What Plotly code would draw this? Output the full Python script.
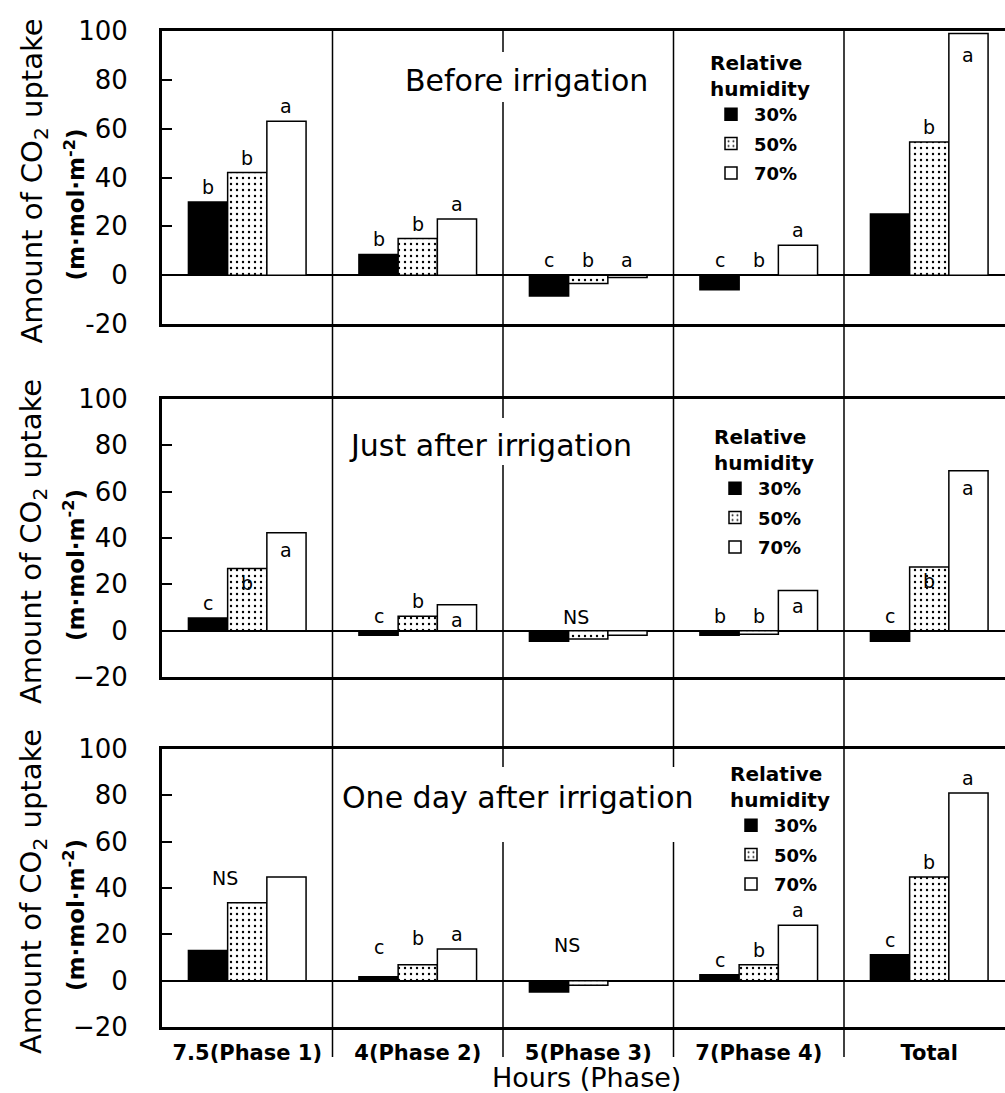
import plotly.graph_objects as go

# ---------------- data ----------------
phases = ["7.5(Phase 1)", "4(Phase 2)", "5(Phase 3)", "7(Phase 4)", "Total"]
humidity = ["30%", "50%", "70%"]
panel_titles = ["Before irrigation", "Just after irrigation", "One day after irrigation"]

before_30 = [30, 8.5, -8.5, -6, 25]
before_50 = [42, 15, -3.4, 0, 54.5]
before_70 = [63, 23, -1, 12.3, 99]

just_30 = [5.5, -2, -4.6, -2, -4.6]
just_50 = [26.8, 6.2, -3.6, -1.5, 27.5]
just_70 = [42.3, 11.2, -2, 17.3, 69]

oneday_30 = [13, 1.7, -4.9, 2.6, 11.2]
oneday_50 = [33.6, 6.9, -2, 6.9, 44.8]
oneday_70 = [44.8, 13.7, -0.3, 23.9, 81]

letters_before_30 = ["b", "b", "c", "c", ""]
letters_before_50 = ["b", "b", "b", "b", "b"]
letters_before_70 = ["a", "a", "a", "a", "a"]
letters_just_30 = ["c", "c", "", "b", "c"]
letters_just_50 = ["b", "b", "NS", "b", "b"]
letters_just_70 = ["a", "a", "", "a", "a"]
letters_oneday_30 = ["", "c", "", "c", "c"]
letters_oneday_50 = ["NS", "b", "NS", "b", "b"]
letters_oneday_70 = ["", "a", "", "a", "a"]

y_ticks = [-20, 0, 20, 40, 60, 80, 100]
y_ticktext_top = ["-20", "0", "20", "40", "60", "80", "100"]
y_ticktext_low = ["\u221220", "0", "20", "40", "60", "80", "100"]

panels = [
    [before_30, before_50, before_70],
    [just_30, just_50, just_70],
    [oneday_30, oneday_50, oneday_70],
]
panel_letters = [
    [letters_before_30, letters_before_50, letters_before_70],
    [letters_just_30, letters_just_50, letters_just_70],
    [letters_oneday_30, letters_oneday_50, letters_oneday_70],
]

# ---------------- layout geometry (pixels) ----------------
W, H, L = 1005, 1093, 162
FONT = "DejaVu Sans"


def py(px):
    return 1 - px / H


def pxx(px):
    return (px - L) / (W - L)


panel_px = [(31, 324), (399, 677), (749, 1027)]      # top, bottom of each box
title_pos = [(526, 80), (490, 445), (518, 797)]
white_patch = [(392, 52, 662, 102), (334, 418, 650, 465), (334, 767, 708, 842)]
legend_pos = [(708, 44), (712, 418), (728, 755)]

# label placement tweaks: (panel, series, category) -> (xshift, yshift, inside)
label_style = {
    (0, 2, 4): (0, -22, True),
    (1, 1, 0): (0, -14, True),
    (1, 2, 0): (0, -17, True),
    (1, 2, 1): (0, -15, True),
    (1, 2, 3): (0, -15, True),
    (1, 1, 4): (0, -14, True),
    (1, 2, 4): (0, -17, True),
    (1, 1, 2): (-12, 14, False),
    (2, 1, 0): (-22, 25, False),
    (2, 1, 2): (-21, 36, False),
    (2, 0, 1): (0, 30, False),
    (2, 1, 1): (0, 27, False),
}

BAR_W = 0.23

fig = go.Figure()

series_style = [
    dict(color="black", pattern=dict(shape="")),
    dict(color="white", pattern=dict(shape=".", fgcolor="black", bgcolor="white",
                                      size=6, solidity=0.12, fillmode="replace")),
    dict(color="white", pattern=dict(shape="")),
]

legend_names = ["legend", "legend2", "legend3"]
for p, vals in enumerate(panels):
    ax = "" if p == 0 else str(p + 1)
    for s, v in enumerate(vals):
        st = series_style[s]
        fig.add_trace(go.Bar(
            x=phases, y=v, name=humidity[s],
            xaxis="x" + ax, yaxis="y" + ax,
            legend=legend_names[p], legendgroup=f"p{p}s{s}",
            marker=dict(color=st["color"], pattern=st["pattern"],
                        line=dict(color="black", width=1.5)),
            showlegend=True, hoverinfo="skip",
        ))

layout = dict(
    width=W, height=H,
    margin=dict(l=L, r=0, t=0, b=0),
    paper_bgcolor="white", plot_bgcolor="rgba(0,0,0,0)",
    barmode="group", bargap=1 - 3 * BAR_W, bargroupgap=0,
    font=dict(family=FONT, color="black"),
)

for p in range(3):
    ax = "" if p == 0 else str(p + 1)
    top, bot = panel_px[p]
    layout["xaxis" + ax] = dict(
        domain=[0, 1], anchor="y" + ax, type="category",
        categoryorder="array", categoryarray=phases,
        range=[-0.5, -0.5 + (W - L) / 170.5],
        showline=True, linewidth=3, linecolor="black", mirror=True,
        ticks="", showgrid=False, zeroline=False,
        showticklabels=(p == 2),
        tickfont=dict(family=FONT, size=21, weight="bold"),
        ticklabelstandoff=5, automargin=False,
    )
    layout["yaxis" + ax] = dict(
        domain=[py(bot), py(top)], anchor="x" + ax, range=[-20, 100],
        tickvals=y_ticks, ticktext=y_ticktext_top if p == 0 else y_ticktext_low,
        ticks="inside", ticklen=10, tickwidth=1.5, tickcolor="black",
        showline=True, linewidth=3, linecolor="black",
        showgrid=False, zeroline=True, zerolinecolor="black", zerolinewidth=1.5,
        tickfont=dict(family=FONT, size=26), ticklabelstandoff=26,
        automargin=False,
    )
    lx, ly = legend_pos[p]
    layout[legend_names[p]] = dict(
        x=pxx(lx), y=py(ly), xanchor="left", yanchor="top",
        bgcolor="rgba(0,0,0,0)",
        title=dict(text="Relative<br>humidity", font=dict(family=FONT, size=20, weight="bold")),
        font=dict(family=FONT, size=18, weight="bold"),
        tracegroupgap=3, traceorder="grouped", itemwidth=36,
    )

fig.update_layout(**layout)

shapes = []
# vertical dividers between phases, running through all panels
for i in range(len(phases) - 1):
    shapes.append(dict(type="line", xref="x", yref="paper", x0=i + 0.5, x1=i + 0.5,
                       y0=py(1057), y1=py(31), line=dict(color="black", width=1.5),
                       layer="above"))
# white patches behind the panel titles
for (x0, y0, x1, y1) in white_patch:
    shapes.append(dict(type="rect", xref="paper", yref="paper", x0=pxx(x0), x1=pxx(x1),
                       y0=py(y1), y1=py(y0), fillcolor="white", line=dict(width=0),
                       layer="above"))
fig.update_layout(shapes=shapes)

ann = []
for p in range(3):
    ax = "" if p == 0 else str(p + 1)
    top, bot = panel_px[p]
    mid = (top + bot) / 2
    ann.append(dict(text="Amount of CO<sub>2</sub> uptake", xref="paper", yref="paper",
                    x=pxx(33), y=py(mid + 4), textangle=-90, showarrow=False,
                    xanchor="center", yanchor="middle",
                    font=dict(family=FONT, size=29)))
    ann.append(dict(text="(m\u00b7mol\u00b7m<sup>-2</sup>)", xref="paper", yref="paper",
                    x=pxx(74), y=py(mid + 27), textangle=-90, showarrow=False,
                    xanchor="center", yanchor="middle",
                    font=dict(family=FONT, size=23, weight="bold")))
    tx, ty = title_pos[p]
    ann.append(dict(text=panel_titles[p], xref="paper", yref="paper",
                    x=pxx(tx), y=py(ty), showarrow=False,
                    xanchor="center", yanchor="middle",
                    font=dict(family=FONT, size=30)))
    for s in range(3):
        vals = panels[p][s]
        labs = panel_letters[p][s]
        for c in range(len(phases)):
            if not labs[c]:
                continue
            xs, ys, inside = label_style.get((p, s, c), (0, 15, False))
            yv = vals[c] if inside else max(vals[c], 0)
            ann.append(dict(text=labs[c], xref="x" + ax, yref="y" + ax,
                            x=c + (s - 1) * BAR_W, y=yv, xshift=xs, yshift=ys,
                            showarrow=False, xanchor="center", yanchor="middle",
                            font=dict(family=FONT, size=19)))

ann.append(dict(text="Hours (Phase)", xref="paper", yref="paper",
                x=pxx(586), y=py(1077), showarrow=False,
                xanchor="center", yanchor="middle",
                font=dict(family=FONT, size=27)))
fig.update_layout(annotations=ann)

fig.write_html("out.html", config={"displayModeBar": False},
               post_script="document.body.style.margin='0px';document.body.style.overflow='hidden';")
